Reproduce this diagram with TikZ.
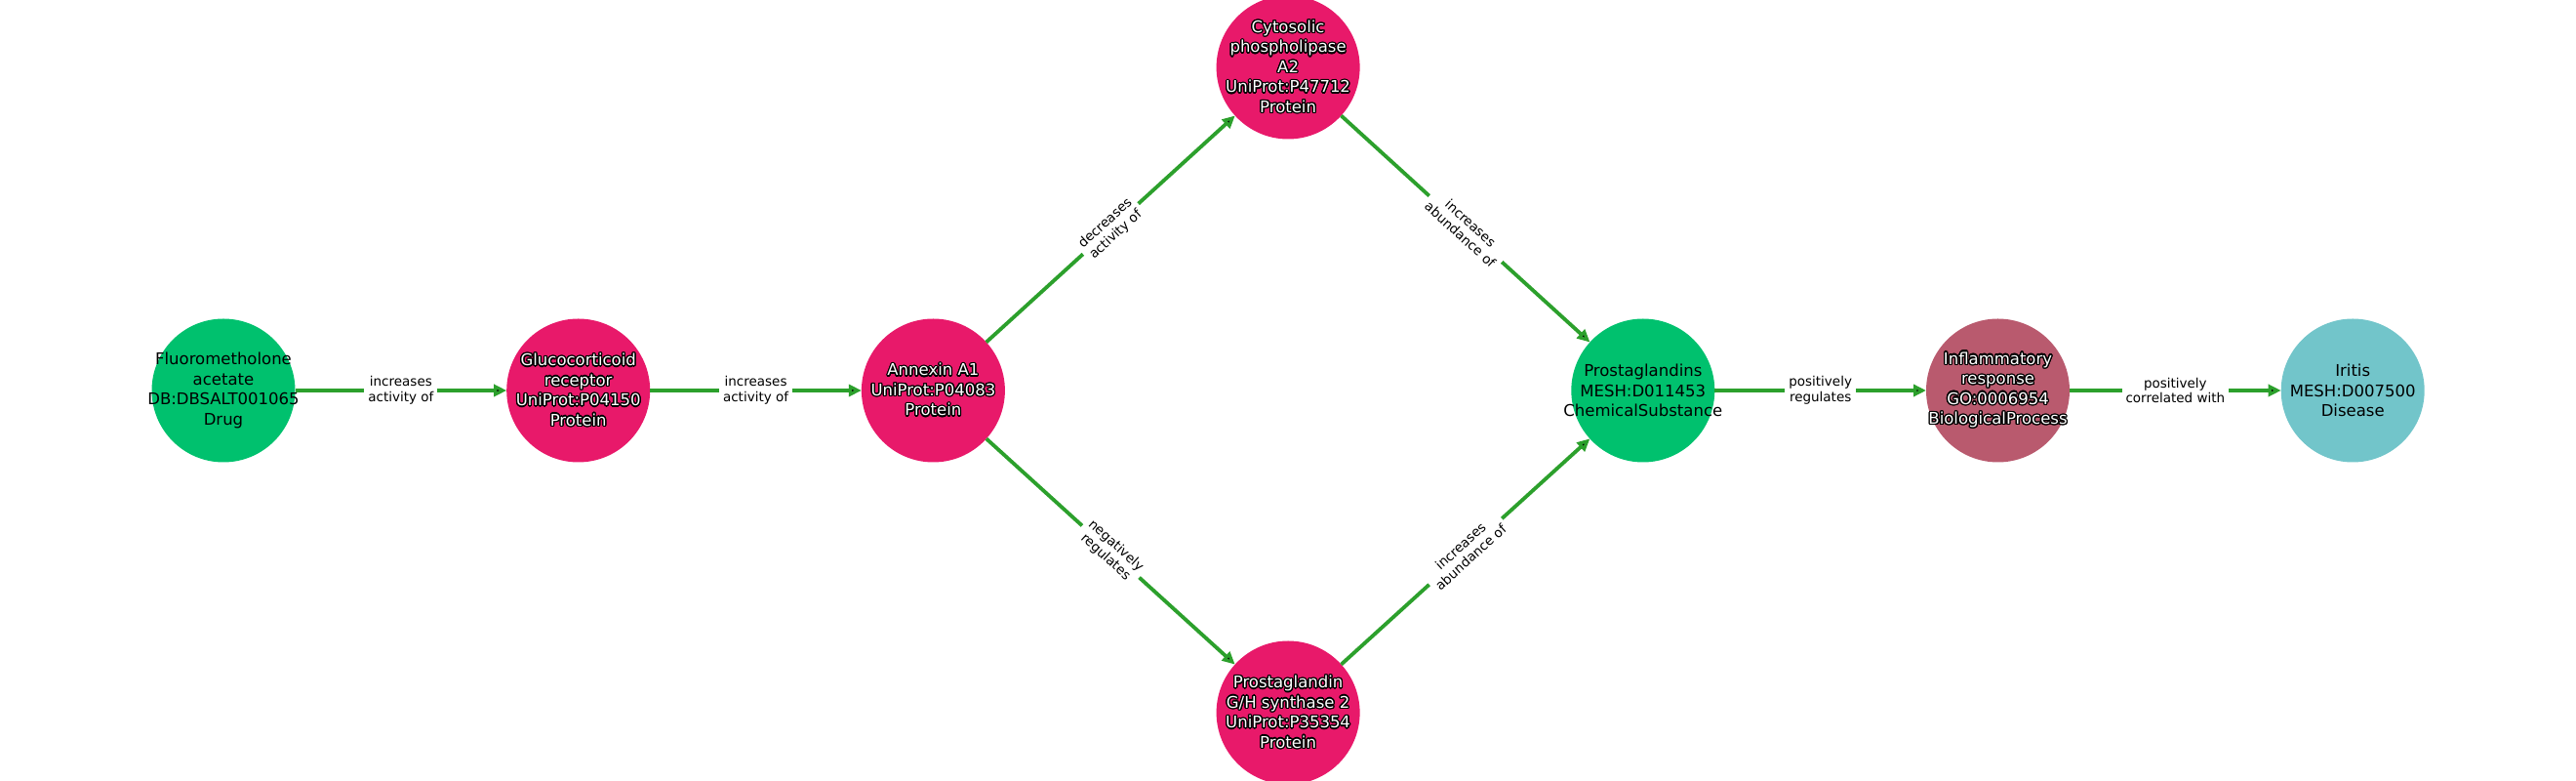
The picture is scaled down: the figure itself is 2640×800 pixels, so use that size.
\documentclass[tikz,border=0pt]{standalone}
\usepackage{fontspec}
\setmainfont{DejaVu Sans}
\usepackage[copies]{contour}
\usetikzlibrary{arrows.meta,positioning,calc}

\definecolor{drugcol}{HTML}{00C16E}
\definecolor{protcol}{HTML}{E8196A}
\definecolor{proccol}{HTML}{B95A6E}
\definecolor{discol}{HTML}{72C5CA}
\definecolor{linkcol}{HTML}{2CA02C}

\contourlength{1.3pt}
\newcommand{\halo}[1]{\contour{black}{#1}}

\begin{document}
\begin{tikzpicture}[
    x = 1pt, y = 1pt,
    > = {Triangle[length=13pt,width=12pt]}, % arrow head style
    node distance = 216.7pt, % gap between circles
    line width = 3.8pt % line style
    ]

    \tikzset{
    entity/.style = {circle, draw = none, minimum size = 147pt, inner sep = 0pt, outer sep = 0pt},
    drug/.style = {entity, fill = drugcol},
    protein/.style = {entity, fill = protcol},
    chem/.style = {entity, fill = drugcol},
    process/.style = {entity, fill = proccol},
    disease/.style = {entity, fill = discol},
    dark/.style = {align = center, text = black,
      font = \fontsize{16.5}{20.5}\selectfont},
    light/.style = {dark, text = white},
    rel/.style = {fill = white, text = black, inner sep = 4pt, align = center,
      font = \fontsize{13.5}{15.7}\selectfont},
    link/.style = {->, draw = linkcol}
    }

    \useasboundingbox (0,0) rectangle (2640,800);

    \node[drug, label={[dark]center:{Fluorometholone\\acetate\\DB:DBSALT001065\\Drug}}] (fluoro) at (229,400) {};
    \node[protein, label={[light]center:{\halo{Glucocorticoid}\\\halo{receptor}\\\halo{UniProt:P04150}\\\halo{Protein}}}] (gr) [right=of fluoro] {};
    \node[protein, label={[light]center:{\halo{Annexin A1}\\\halo{UniProt:P04083}\\\halo{Protein}}}] (anxa1) [right=of gr] {};
    \node[chem, label={[dark]center:{Prostaglandins\\MESH:D011453\\ChemicalSubstance}}] (pg) [right=580.4pt of anxa1] {};
    \node[process, label={[light]center:{\halo{Inflammatory}\\\halo{response}\\\halo{GO:0006954}\\\halo{BiologicalProcess}}}] (inflam) [right=of pg] {};
    \node[disease, label={[dark]center:{Iritis\\MESH:D007500\\Disease}}] (iritis) [right=of inflam] {};

    % the two branches between annexin and prostaglandins
    \node[protein, label={[light]center:{\halo{Cytosolic}\\\halo{phospholipase}\\\halo{A2}\\\halo{UniProt:P47712}\\\halo{Protein}}}] (cpla2) at ($(anxa1)!0.5!(pg)+(0,331)$) {};
    \node[protein, label={[light]center:{\halo{Prostaglandin}\\\halo{G/H synthase 2}\\\halo{UniProt:P35354}\\\halo{Protein}}}] (ptgs2) at ($(anxa1)!0.5!(pg)-(0,330)$) {};

    \path[link] (fluoro) edge node[rel]{increases\\activity of} (gr);
    \path[link] (gr) edge node[rel]{increases\\activity of} (anxa1);
    \path[link] (anxa1) edge node[rel,sloped]{decreases\\activity of} (cpla2);
    \path[link] (anxa1) edge node[rel,sloped]{negatively\\regulates} (ptgs2);
    \path[link] (cpla2) edge node[rel,sloped]{increases\\abundance of} (pg);
    \path[link] (ptgs2) edge node[rel,sloped]{increases\\abundance of} (pg);
    \path[link] (pg) edge node[rel]{positively\\regulates} (inflam);
    \path[link] (inflam) edge node[rel]{positively\\correlated with} (iritis);
\end{tikzpicture}
\end{document}
